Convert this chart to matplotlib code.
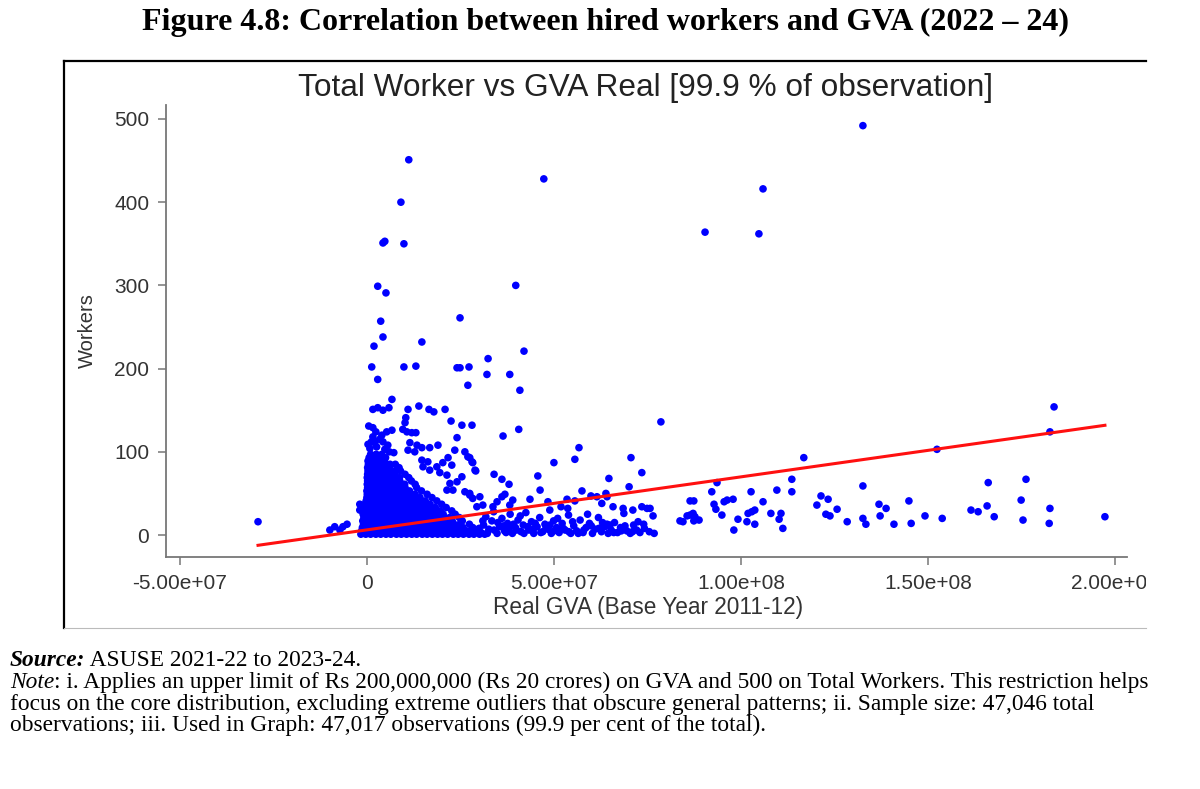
import numpy as np
import matplotlib
matplotlib.use("Agg")
import matplotlib.pyplot as plt
from matplotlib.ticker import FuncFormatter
from matplotlib.lines import Line2D
from matplotlib.transforms import Bbox, TransformedBbox

# Datos (GVA en millones de Rs, trabajadores)
# Puntos dispersos altos
alto_gva = [11.2, 47.3, 9.1, 4.3, 4.8, 9.9, 2.9, 5.1, 39.8, 3.7, 24.9, 4.3, 14.7, 1.9, 42.0,
            132.6, 105.9, 90.4, 104.8,
            1.3, 9.9, 13.1, 2.9, 24.1, 24.9, 27.3, 32.4, 32.1, 38.2, 27.0, 40.9]
alto_workers = [451, 428, 400, 351, 353, 350, 299, 291, 300, 257, 261, 238, 232, 227, 221,
                492, 416, 364, 362,
                202, 202, 203, 187, 201, 201, 202, 212, 193, 193, 180, 174]

# Puntos entre 30 y 165 trabajadores, cerca del grupo denso
medio_gva = [6.7, 1.6, 2.9, 4.3, 5.9, 11.0, 13.9, 16.6, 17.9, 20.9, 10.4, 10.2, 22.5, 25.4, 28.1,
             0.5, 1.6, 9.6, 10.7, 12.0, 13.1, 2.4, 4.0, 5.3, 6.7, 24.1, 36.4, 40.6, 78.6,
             1.6, 2.1, 4.3, 5.6, 11.5, 13.4, 14.7, 16.8, 19.0, 11.0, 12.8, 23.5, 26.2, 27.0,
             28.1, 28.9, 21.7, 20.3, 22.7, 14.7, 16.3, 15.0, 16.8, 18.7, 19.5, 21.4, 25.4,
             24.1, 22.2, 21.4, 23.0, 26.2, 27.5, 30.2, 31.0, 27.5, 28.3, 29.1, 27.5, 28.3, 29.4,
             0.8, 2.6, 4.8, 1.2, 6.0, 3.4, 7.2, 0.3]
medio_workers = [163, 151, 153, 150, 153, 151, 155, 151, 148, 151, 141, 135, 137, 132, 132,
                 131, 129, 127, 124, 123, 123, 124, 120, 124, 126, 117, 119, 127, 136,
                 118, 111, 112, 108, 111, 108, 105, 105, 108, 102, 100, 102, 100, 94,
                 88, 78, 93, 87, 84, 90, 88, 82, 78, 82, 75, 72, 70,
                 64, 62, 54, 54, 52, 48, 46, 36, 93, 87, 77, 50, 44, 34,
                 104, 106, 103, 112, 100, 115, 99, 109]

# Puntos entre 30 y 90 millones por encima de la banda
derecha_media_gva = [56.7, 55.6, 50.0, 70.6, 73.5, 70.1, 45.7, 46.3, 34.0, 36.1, 38.0, 64.7,
                     57.5, 59.9, 61.5, 63.9, 64.2, 62.8, 65.8, 53.5, 55.6, 51.9, 53.7, 48.4,
                     48.9, 43.6, 36.9, 36.1, 34.8, 33.7, 39.0, 38.2, 73.5, 74.9, 86.4, 87.4,
                     83.7, 85.6, 87.4, 84.5, 86.4, 88.8, 76.5, 75.7, 68.5, 71.1, 63.1, 64.2,
                     87.2, 87.7]
derecha_media_workers = [105, 91, 87, 93, 75, 58, 71, 54, 73, 67, 61, 68,
                         53, 47, 46, 50, 46, 38, 34, 43, 41, 34, 32, 40,
                         30, 43, 49, 46, 40, 34, 42, 36, 34, 32, 41, 41,
                         17, 23, 17, 16, 24, 18, 23, 32, 32, 30, 11, 13,
                         26, 22]

# Valores negativos de GVA
izquierda_gva = [-29.1, -9.9, -8.6, -7.2, -5.3, -6.4, -1.9, -1.9, -1.1]
izquierda_workers = [16, 6, 10, 6, 13, 10, 37, 30, 36]

# Puntos a la derecha (GVA > 90 millones)
lejos_gva = [116.8, 183.7, 182.6, 152.4, 93.6, 92.2, 92.8, 93.3, 94.9, 95.5, 96.3, 97.9,
             98.1, 99.2, 101.6, 101.9, 102.9, 103.7, 102.7, 103.7, 105.9, 108.0, 109.6,
             110.2, 110.7, 111.2, 113.6, 113.6, 120.3, 121.4, 123.3, 122.7, 123.8, 125.7,
             128.4, 132.6, 132.6, 133.4, 136.9, 138.8, 137.2, 140.9, 144.9, 145.5, 149.2,
             153.8, 161.5, 163.4, 165.8, 166.1, 167.7, 174.9, 175.4, 176.2, 182.6, 182.4,
             197.3]
lejos_workers = [93, 154, 124, 103, 63, 52, 37, 31, 24, 40, 42, 43,
                 6, 19, 16, 26, 28, 30, 52, 13, 40, 26, 54,
                 19, 26, 8, 67, 52, 36, 47, 43, 25, 23, 31,
                 16, 59, 20, 13, 37, 32, 23, 13, 41, 14, 23,
                 20, 30, 28, 35, 63, 22, 42, 18, 67, 32, 14,
                 22]

# Banda de pocos trabajadores entre 30 y 77 millones
banda_gva = [30.5, 31.2, 31.8, 32.6, 33.4, 33.9, 34.8, 35.5, 36.1, 36.8, 37.6, 38.3, 38.9,
             39.7, 40.4, 41.2, 41.8, 42.5, 43.3, 44.0, 44.6, 45.5, 46.2, 47.0, 47.6, 48.4,
             49.3, 49.9, 50.7, 51.4, 52.2, 53.0, 53.9, 54.5, 55.3, 56.1, 57.0, 57.8, 58.6,
             59.5, 60.3, 61.0, 61.9, 62.7, 63.6, 64.5, 65.3, 66.2, 67.0, 67.8, 68.7, 69.5,
             70.4, 71.3, 72.1, 73.0, 74.2, 75.5, 76.8,
             30.0, 31.0, 32.2, 34.0, 35.0, 36.5, 37.2, 38.0, 39.2, 40.0, 41.0, 42.0, 43.0,
             44.5, 45.0, 46.5, 47.9, 48.9, 50.0, 51.0, 52.5, 54.0, 55.0, 56.5, 58.0, 59.0,
             60.0, 62.0, 63.0, 65.0, 66.0, 68.0, 69.0, 71.0, 72.5, 74.0]
banda_workers = [3, 12, 22, 7, 17, 28, 2, 10, 20, 5, 14, 25, 2,
                 9, 18, 4, 12, 27, 6, 16, 2, 10, 21, 4, 13, 7,
                 2, 17, 9, 3, 14, 6, 24, 2, 11, 5, 18, 3, 9,
                 14, 2, 7, 21, 4, 10, 2, 6, 15, 3, 9, 26, 5,
                 2, 12, 6, 3, 8, 4, 2,
                 8, 17, 2, 6, 15, 11, 3, 8, 13, 6, 23, 2, 10,
                 7, 14, 3, 9, 12, 5, 20, 8, 4, 16, 2, 6, 25,
                 11, 8, 15, 12, 3, 5, 11, 4, 16, 13]

# Grupo denso cerca de cero (una fila por numero de trabajadores)
grupo_workers = [1, 5, 9, 13, 17, 21, 25, 29, 33, 37, 41, 45, 49, 53, 57, 61, 65, 69, 73, 77,
                 81, 85, 89, 93, 97]
grupo_gva = [
    [-1.6, -0.3, 1.0, 2.4, 3.7, 5.1, 6.4, 7.9, 9.2, 10.6, 12.0, 13.3, 14.8, 16.1, 17.5, 18.9,
     20.2, 21.6, 23.1, 24.4, 25.8, 27.3, 28.6, 30.1, 31.5],
    [-1.4, 0.0, 1.4, 2.8, 4.2, 5.6, 7.0, 8.4, 9.8, 11.2, 12.6, 14.0, 15.4, 16.8, 18.2, 19.6,
     21.0, 22.4, 23.8, 25.2, 26.6, 28.0, 29.5],
    [-1.2, 0.3, 1.7, 3.1, 4.5, 5.9, 7.3, 8.7, 10.1, 11.5, 12.9, 14.3, 15.7, 17.1, 18.5, 19.9,
     21.3, 22.7, 24.2, 25.7, 28.3],
    [-0.9, 0.6, 2.0, 3.4, 4.8, 6.2, 7.6, 9.0, 10.4, 11.8, 13.2, 14.6, 16.0, 17.4, 18.8, 20.2,
     21.7, 23.3, 24.8, 27.4],
    [-1.1, 0.2, 1.6, 3.0, 4.4, 5.8, 7.2, 8.6, 10.0, 11.4, 12.8, 14.2, 15.6, 17.0, 18.4, 19.8,
     21.3, 22.8, 25.5],
    [-0.8, 0.6, 2.0, 3.4, 4.8, 6.2, 7.6, 9.0, 10.4, 11.8, 13.2, 14.6, 16.0, 17.5, 19.0, 20.6,
     22.1, 24.7],
    [-1.0, 0.3, 1.7, 3.1, 4.5, 5.9, 7.3, 8.7, 10.1, 11.5, 12.9, 14.3, 15.8, 17.3, 18.9, 20.4,
     23.6],
    [-0.6, 0.8, 2.2, 3.6, 5.0, 6.4, 7.8, 9.2, 10.6, 12.0, 13.4, 14.9, 16.4, 18.0, 19.6, 22.7],
    [-0.4, 1.0, 2.4, 3.8, 5.2, 6.6, 8.0, 9.4, 10.8, 12.2, 13.7, 15.2, 16.8, 18.3, 21.2],
    [-0.3, 1.1, 2.5, 3.9, 5.3, 6.7, 8.1, 9.5, 10.9, 12.3, 13.8, 15.4, 16.9, 20.0],
    [-0.2, 1.2, 2.6, 4.0, 5.4, 6.8, 8.2, 9.6, 11.0, 12.5, 14.0, 15.6, 18.7],
    [0.0, 1.4, 2.8, 4.2, 5.6, 7.0, 8.4, 9.8, 11.2, 12.7, 14.2, 17.4],
    [0.1, 1.5, 2.9, 4.3, 5.7, 7.1, 8.5, 9.9, 11.4, 12.9, 16.1],
    [0.0, 1.4, 2.8, 4.2, 5.6, 7.0, 8.4, 9.9, 11.4, 14.6],
    [0.2, 1.6, 3.0, 4.4, 5.8, 7.2, 8.7, 10.2, 13.3],
    [0.1, 1.5, 2.9, 4.3, 5.7, 7.1, 8.6, 10.1, 12.9],
    [0.2, 1.6, 3.0, 4.4, 5.8, 7.3, 8.8, 11.9],
    [0.1, 1.5, 2.9, 4.3, 5.7, 7.2, 8.7, 11.2],
    [0.2, 1.6, 3.0, 4.4, 5.9, 7.4, 10.2],
    [0.3, 1.7, 3.1, 4.5, 6.0, 7.5, 9.0],
    [0.2, 1.6, 3.0, 4.5, 6.0, 8.6],
    [0.4, 1.8, 3.2, 4.7, 6.2, 7.6],
    [0.3, 1.7, 3.2, 4.7],
    [0.6, 2.0, 3.5, 5.0],
    [1.0, 2.5, 4.0],
]

# Recta ajustada (lfit): trabajadores = intercepto + pendiente * GVA
fit_intercepto = 6.2
fit_pendiente = 0.637e-6

xticks = [-5e7, 0, 5e7, 1e8, 1.5e8, 2e8]
yticks = [0, 100, 200, 300, 400, 500]

# Juntar todos los puntos
gva = alto_gva + medio_gva + derecha_media_gva + izquierda_gva + lejos_gva + banda_gva
workers = alto_workers + medio_workers + derecha_media_workers + izquierda_workers + lejos_workers + banda_workers
for w, fila in zip(grupo_workers, grupo_gva):
    gva = gva + fila
    workers = workers + [w] * len(fila)
gva = np.array(gva) * 1e6
workers = np.array(workers)

W, H = 1200, 789
fig = plt.figure(figsize=(W / 100, H / 100), dpi=100)
sans = "Liberation Sans"
serif = "Liberation Serif"

ax = fig.add_axes([166 / W, 1 - 557 / H, (1127 - 166) / W, (557 - 105) / H])
ax.scatter(gva, workers, s=30, color="#0000ff", edgecolors="none", zorder=2)

xs = np.array([gva.min(), gva.max()])
ax.plot(xs, fit_intercepto + fit_pendiente * xs, color="#ff1010", lw=2.2, zorder=3)

ax.set_xlim(-5.37e7, 2.032e8)
ax.set_ylim(-26.4, 516.8)
ax.set_xticks(xticks)
ax.set_yticks(yticks)
ax.xaxis.set_major_formatter(FuncFormatter(lambda v, p: "0" if v == 0 else f"{v:.2e}"))
for lado in ["top", "right"]:
    ax.spines[lado].set_visible(False)
for lado in ["left", "bottom"]:
    ax.spines[lado].set_color("#777777")
    ax.spines[lado].set_linewidth(1.3)
ax.tick_params(direction="out", length=6, width=1.1, color="#777777",
               labelcolor="#333333", labelsize=15, pad=6)
for lab in ax.get_xticklabels() + ax.get_yticklabels():
    lab.set_fontfamily(sans)

ax.set_ylabel("Workers", fontsize=14.5, color="#333333", family=sans)
ax.yaxis.set_label_coords(-0.072, 0.5)
ax.set_xlabel("Real GVA (Base Year 2011-12)", fontsize=16.3, color="#333333", family=sans)
ax.xaxis.set_label_coords(0.502, -0.086)

# La imagen original esta recortada a la derecha
recorte = TransformedBbox(Bbox([[0, 0], [1146 / W, 1]]), fig.transFigure)
for lab in ax.get_xticklabels():
    lab.set_clip_box(recorte)
    lab.set_clip_on(True)

fig.text(645 / W, 1 - 88 / H, "Total Worker vs GVA Real [99.9 % of observation]",
         ha="center", va="center", fontsize=22.8, color="#222222", family=sans)

# Marco de la imagen
fig.add_artist(Line2D([64 / W, 64 / W], [1 - 61 / H, 1 - 628 / H], transform=fig.transFigure,
                      color="black", lw=1.6))
fig.add_artist(Line2D([64 / W, 1146 / W], [1 - 61 / H, 1 - 61 / H], transform=fig.transFigure,
                      color="black", lw=1.6))
fig.add_artist(Line2D([64 / W, 1146 / W], [1 - 628 / H, 1 - 628 / H], transform=fig.transFigure,
                      color="#bbbbbb", lw=0.8))

fig.text(605 / W, 1 - 22 / H, "Figure 4.8: Correlation between hired workers and GVA (2022 \u2013 24)",
         ha="center", va="center", fontsize=23, fontweight="bold", family=serif)

# Notas al pie
renderer = fig.canvas.get_renderer()
notas = [
    ("Source:", dict(fontweight="bold", fontstyle="italic"), " ASUSE 2021-22 to 2023-24."),
    ("Note", dict(fontstyle="italic"), ": i. Applies an upper limit of Rs 200,000,000 (Rs 20 crores) on GVA and 500 on Total Workers. This restriction helps"),
    ("", {}, "focus on the core distribution, excluding extreme outliers that obscure general patterns; ii. Sample size: 47,046 total"),
    ("", {}, "observations; iii. Used in Graph: 47,017 observations (99.9 per cent of the total)."),
]
base_y = [666, 688, 710, 731]
for (pre, estilo, resto), by in zip(notas, base_y):
    x0 = 10 / W
    if pre:
        t = fig.text(x0, 1 - by / H, pre, va="baseline", fontsize=16.8, family=serif, **estilo)
        x0 = fig.transFigure.inverted().transform((t.get_window_extent(renderer).x1, 0))[0]
    fig.text(x0, 1 - by / H, resto, va="baseline", fontsize=16.8, family=serif)

fig.savefig("out.png", dpi=100)
